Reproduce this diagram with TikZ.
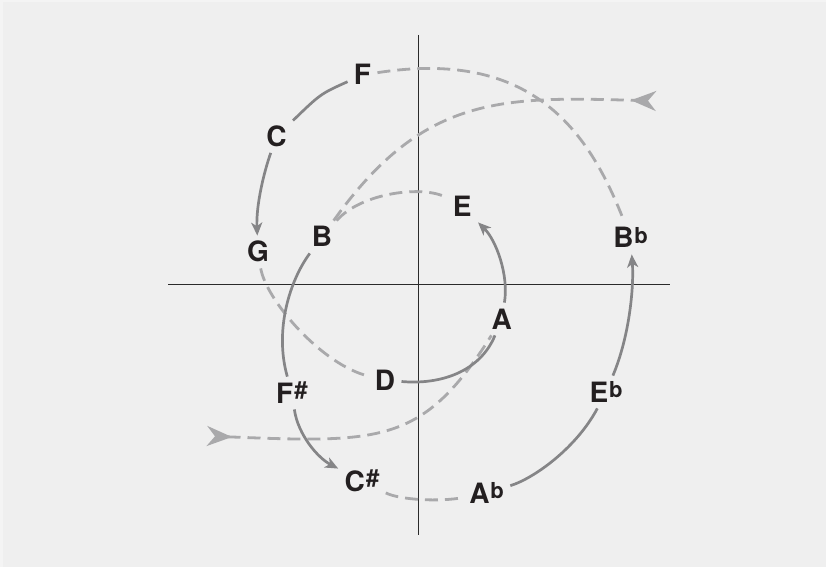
\documentclass[tikz,border=0pt]{standalone}
\usepackage{fontspec}
\setmainfont{TeX Gyre Heros}
\usetikzlibrary{arrows.meta}
\definecolor{bgc}{HTML}{EFEFEF}
\definecolor{edgec}{HTML}{F4F4F4}
\definecolor{solidc}{HTML}{858587}
\definecolor{dashc}{HTML}{A9A9AB}
\definecolor{axisc}{HTML}{2A2A2A}
\definecolor{txtc}{HTML}{231F20}
\newcommand\noteup[1]{\kern0.4pt\raisebox{2.4pt}{\fontsize{11}{11}\selectfont #1}}
\newcommand\notesh{\kern0.6pt\raisebox{2.2pt}{\fontsize{12}{12}\selectfont\#}}
\begin{document}
\begin{tikzpicture}[x=0.5pt,y=-0.5pt,
  note/.style={rectangle, inner sep=3pt, text height=10pt, text depth=0pt,
    font=\fontsize{14}{14}\selectfont\bfseries, text=txtc},
  solidarc/.style={draw=solidc, line width=1.35pt},
  dasharc/.style={draw=dashc, line width=1.4pt, dash pattern=on 6.5pt off 3.5pt},
  tipsolid/.style={-{Stealth[length=6.5pt,width=5.5pt,inset=1.8pt]}},
  tipin/.tip={Stealth[length=12.5pt,width=10pt,inset=4pt,reversed]},
  axis/.style={draw=axisc, line width=0.6pt}]
\useasboundingbox (0,0) rectangle (826,567);
\fill[edgec] (0,0) rectangle (826,567);
\fill[bgc] (3,2) rectangle (826,567);
% axes
\coordinate (xl) at (168,284.5);
\coordinate (xr) at (669.5,284.5);
\coordinate (yt) at (418.5,35);
\coordinate (yb) at (418.5,535);
\draw[axis] (xl) -- (xr);
\draw[axis] (yt) -- (yb);
% labels
\node[note] (F) at (362.5,75) {F};
\node[note] (C) at (276.5,136.5) {C};
\node[note] (G) at (258,252) {G};
\node[note] (B) at (322,237) {B};
\node[note] (E) at (462.3,207) {E};
\node[note] (Bb) at (630.5,238) {B\noteup{b}};
\node[note] (A) at (501.7,319) {A};
\node[note] (D) at (385,380) {D};
\node[note] (Fs) at (292,393) {F\notesh};
\node[note] (Eb) at (606,392) {E\noteup{b}};
\node[note] (Cs) at (362,481) {C\notesh};
\node[note] (Ab) at (486.7,493) {A\noteup{b}};
\coordinate (inR) at (656,101);
\coordinate (inL) at (207,436);
% dashed arcs
\draw[dasharc] (F) .. controls (530,49) and (588,128) .. (Bb);
\draw[dasharc] (G) .. controls (266,300) and (322,365) .. (D);
\draw[dasharc] (B) .. controls (362,192) and (425,185) .. (E);
\draw[dasharc,-tipin] (B) .. controls (422.9,95.3) and (501.2,96.4) .. (inR);
\draw[dasharc,tipin-] (inL) .. controls (381.1,442.9) and (422.9,444.5) .. (A);
\draw[dasharc] (Cs) .. controls (400,500) and (440,502) .. (Ab);
% solid arcs
\draw[solidarc] (F) .. controls (320.6,93.8) .. (C);
\draw[solidarc,tipsolid] (C) .. controls (264,172) and (256,205) .. (G);
\draw[solidarc] (B) .. controls (290,280) and (274,330) .. (Fs);
\draw[solidarc,tipsolid] (Fs) .. controls (298,435) and (318,458) .. (Cs);
\draw[solidarc] (D) .. controls (440,385) and (480,372) .. (A);
\draw[solidarc,tipsolid] (A) .. controls (509,275) and (496,240) .. (E);
\draw[solidarc] (Ab) .. controls (535,478) and (577,447) .. (Eb);
\draw[solidarc,tipsolid] (Eb) .. controls (630,335) and (634,285) .. (Bb);
\end{tikzpicture}
\end{document}
